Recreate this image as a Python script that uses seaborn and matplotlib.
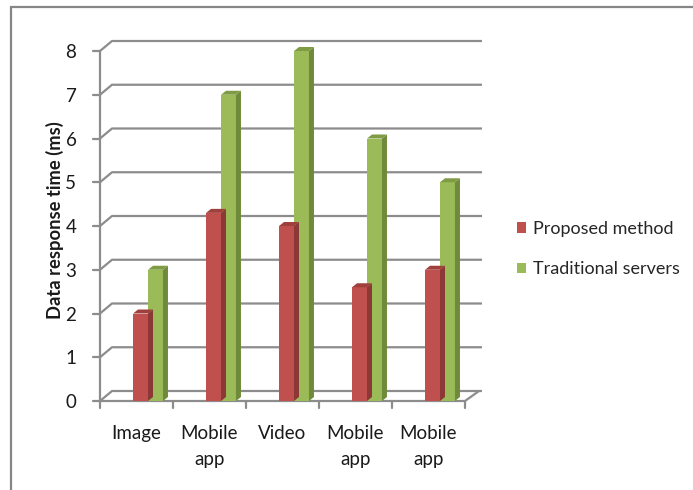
import matplotlib
matplotlib.use("Agg")
import matplotlib.pyplot as plt
import matplotlib.patches as mpatches
import seaborn as sns
import pandas as pd
import numpy as np

categories = ["Image", "Mobile\napp", "Video", "Mobile\napp", "Mobile\napp"]
proposed = [2.0, 4.3, 4.0, 2.6, 3.0]
traditional = [3.0, 7.0, 8.0, 6.0, 5.0]
series_names = ["Proposed method", "Traditional servers"]
yticks = [0, 1, 2, 3, 4, 5, 6, 7, 8]

sns.set_theme(style="white")
plt.rcParams['font.family'] = ['Lato', 'DejaVu Sans']

W, H = 693, 490
fig = plt.figure(figsize=(W / 100, H / 100), dpi=100)
fig.patch.set_facecolor("white")

px_left, px_floor, px_top = 100, 401, 40
px_per_cat = 73.0
px_per_val = 43.75
xlim = (-0.5, -0.5 + (482 - 100) / px_per_cat)
ylim = (0, (px_floor - px_top) / px_per_val)
ax = fig.add_axes([px_left / W, (H - px_floor) / H, (482 - 100) / W, (px_floor - px_top) / H])
ax.set_xlim(*xlim)
ax.set_ylim(*ylim)

def dxu(px):
    return px / px_per_cat

def dyu(px):
    return px / px_per_val

keys = [f"c{i}" for i in range(len(categories))]
df = pd.DataFrame({
    "cat": keys * 2,
    "val": proposed + traditional,
    "series": [series_names[0]] * len(keys) + [series_names[1]] * len(keys),
})
red, green = "#C0504D", "#9BBB59"
red_side, green_side = "#8C3836", "#6E8A3A"
red_top, green_top = "#A0403D", "#7F9C45"

grid_c = "#8C8C8C"
depth_x, depth_y = dxu(12), dyu(10)
for v in yticks:
    ax.plot([-0.5, -0.5 + depth_x, xlim[1]], [v, v + depth_y, v + depth_y],
            color=grid_c, lw=1.6, clip_on=False, zorder=1, solid_capstyle="butt")
    ax.plot([-0.5 - dxu(7), -0.5], [v, v], color=grid_c, lw=1.6, clip_on=False, zorder=1)
fx = 4.5
ax.plot([-0.5, fx, fx + dxu(14), xlim[1] - dxu(3)], [0, 0, depth_y, depth_y],
        color=grid_c, lw=1.6, clip_on=False, zorder=1)
ax.plot([-0.5, -0.5], [0, yticks[-1]], color=grid_c, lw=1.6, clip_on=False, zorder=1)
for b in np.arange(-0.5, 5.0, 1.0):
    ax.plot([b, b], [0, -dyu(7)], color=grid_c, lw=1.6, clip_on=False, zorder=1)

sns.barplot(data=df, x="cat", y="val", hue="series", order=keys,
            hue_order=series_names, palette=[red, green], width=0.41,
            saturation=1.0, ax=ax, legend=False, zorder=3)
ax.set_xlim(*xlim)
ax.set_ylim(*ylim)

shift = dxu(11.5)
sdx, sdy = dxu(5), dyu(4)
for i, p in enumerate(list(ax.patches)):
    p.set_x(p.get_x() + shift)
    p.set_linewidth(0)
    x0, w, h = p.get_x(), p.get_width(), p.get_height()
    is_red = i < len(keys)
    side = red_side if is_red else green_side
    top = red_top if is_red else green_top
    ax.add_patch(mpatches.Polygon([(x0 + w, 0), (x0 + w + sdx, sdy), (x0 + w + sdx, h + sdy), (x0 + w, h)],
                                  closed=True, facecolor=side, edgecolor="none", zorder=3))
    ax.add_patch(mpatches.Polygon([(x0, h), (x0 + w, h), (x0 + w + sdx, h + sdy), (x0 + sdx, h + sdy)],
                                  closed=True, facecolor=top, edgecolor="none", zorder=3))

for s in ax.spines.values():
    s.set_visible(False)
ax.set_yticks(yticks)
ax.set_yticklabels([str(v) for v in yticks], fontsize=13.5, color="#1a1a1a")
ax.tick_params(axis="y", length=0, pad=17)
ax.set_xticks(range(len(categories)))
ax.set_xticklabels(categories, fontsize=13.5, color="#1a1a1a", linespacing=1.65)
ax.tick_params(axis="x", length=0, pad=17)
ax.set_xlabel("")
ax.set_ylabel("Data response time (ms)", fontsize=13.2, fontweight="bold", color="#1a1a1a", labelpad=1)
ax.grid(False)
ax.set_facecolor("none")

handles = [mpatches.Patch(facecolor=red, edgecolor="none"), mpatches.Patch(facecolor=green, edgecolor="none")]
fig.legend(handles, series_names, loc="center left", bbox_to_anchor=(510 / W, 1 - 249 / H),
           frameon=False, fontsize=13.0, handlelength=0.5, handleheight=0.5,
           handletextpad=0.35, labelspacing=1.35, borderaxespad=0)

fig.add_artist(mpatches.Rectangle((11 / W, -0.2), 2.0, 1.2 - 7 / H, transform=fig.transFigure,
                                  facecolor="none", edgecolor="#868686", lw=1.6))

fig.savefig("out.png", dpi=100)
